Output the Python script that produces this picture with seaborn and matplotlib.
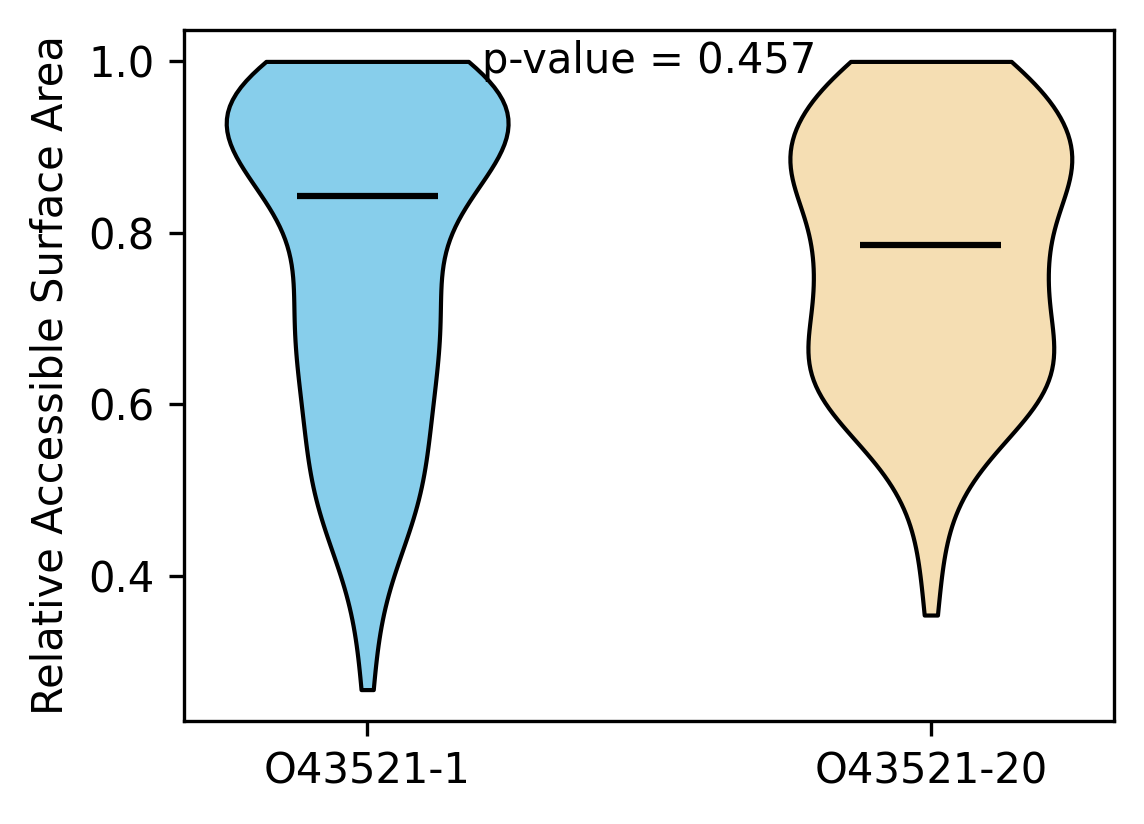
import numpy as np
import pandas as pd
import matplotlib
matplotlib.use("Agg")
import matplotlib.pyplot as plt
import seaborn as sns

# isoform names and colours
isoforms = ["O43521-1", "O43521-20"]
colors = ["#87CEEB", "#F5DEB3"]

# RSA values, with how many residues sit at each value
rsa_1 = [1.00, 0.96, 0.92, 0.88, 0.843, 0.80, 0.76, 0.72, 0.68, 0.64,
         0.60, 0.56, 0.52, 0.48, 0.44, 0.40, 0.36, 0.32, 0.267]
count_1 = [30, 32, 36, 22, 22, 10, 14, 15, 15, 14,
           12, 12, 12, 11, 8, 4, 2, 2, 2]

rsa_20 = [1.00, 0.96, 0.92, 0.88, 0.84, 0.786, 0.76, 0.72, 0.68, 0.64,
          0.60, 0.56, 0.52, 0.48, 0.44, 0.40, 0.354]
count_20 = [11, 12, 13, 17, 14, 11, 9, 10, 12, 14,
            12, 7, 3, 2, 1, 1, 1]

p_value = 0.457

df = pd.DataFrame({
    "isoform": [isoforms[0]] * sum(count_1) + [isoforms[1]] * sum(count_20),
    "rsa": np.concatenate([np.repeat(rsa_1, count_1), np.repeat(rsa_20, count_20)]),
})

fig = plt.figure(figsize=(1144 / 300, 824 / 300), dpi=300)
ax = fig.add_axes([0.1608, 0.125, 0.813, 0.8386])

sns.violinplot(data=df, x="isoform", y="rsa", hue="isoform", order=isoforms,
               palette=colors, saturation=1, cut=0, inner=None, width=0.5,
               density_norm="width", linewidth=1, linecolor="black",
               legend=False, ax=ax)

# median lines
for i, name in enumerate(isoforms):
    med = df.loc[df["isoform"] == name, "rsa"].median()
    ax.hlines(med, i - 0.125, i + 0.125, color="black", linewidth=1.5)

ymin, ymax = df["rsa"].min(), df["rsa"].max()
pad = (ymax - ymin) * 0.05
ax.set_ylim(ymin - pad, ymax + pad)
ax.set_xlim(-0.325, 1.325)
ax.set_yticks([0.4, 0.6, 0.8, 1.0])
ax.set_xlabel("")
ax.set_ylabel("Relative Accessible Surface Area")
ax.text(0.5, ymax, f"p-value = {p_value}", ha="center", va="center")

fig.savefig("out.png", dpi=300)
